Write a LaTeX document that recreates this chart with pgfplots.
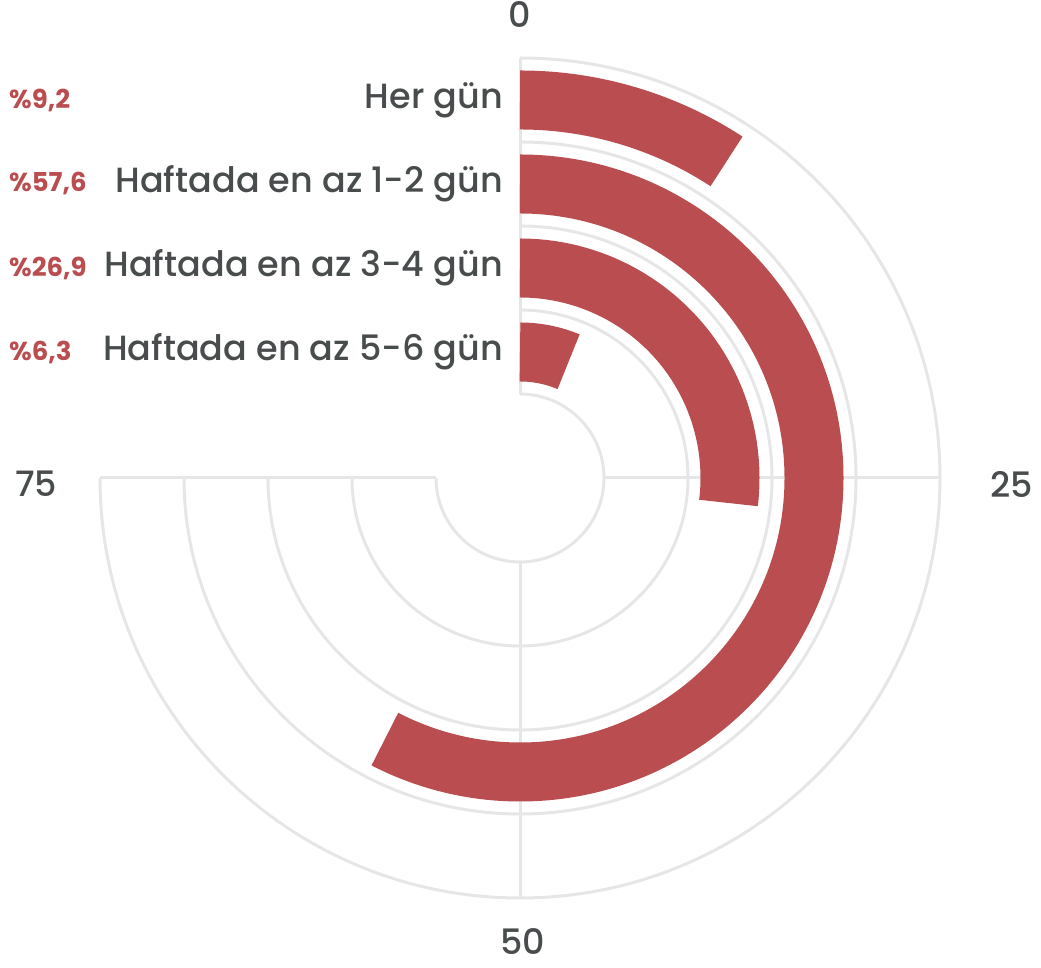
\documentclass[border=0pt]{standalone}
\usepackage{fontspec}
\setmainfont{Poppins}[UprightFont=* Medium, BoldFont=* Bold]
\usepackage{pgfplots}
\usepackage{pgfplotstable}
\pgfplotsset{compat=1.18}
\definecolor{barred}{RGB}{185,77,80}
\definecolor{gridgray}{RGB}{230,230,230}
\definecolor{textgray}{RGB}{72,76,77}

% value = share in percent, r = radius of the bar's centre line
\pgfplotstableread{
label value r
{Her gün} 9.2 378
{Haftada en az 1-2 gün} 57.6 294
{Haftada en az 3-4 gün} 26.9 210
{Haftada en az 5-6 gün} 6.3 126
}\freqtable

% one radial bar: arc from the top (0) clockwise, 100 = full turn
\pgfdeclareplotmark{radialbar}{%
  \pgfmathsetmacro\endang{90-3.6*\val}%
  \pgfsetlinewidth{59pt}%
  \pgfsetbuttcap
  \pgfsetstrokecolor{barred}%
  \pgfpathmoveto{\pgfpointorigin}%
  \pgfpatharc{90}{\endang}{\rad pt}%
  \pgfusepath{stroke}%
}

\begin{document}
\begin{tikzpicture}
\begin{axis}[
  x=1pt, y=1pt,
  xmin=-520, xmax=521,
  ymin=-490, ymax=478,
  scale only axis,
  hide axis,
  clip=false,
]
\path (axis cs:-520,-490) rectangle (axis cs:521,478);

% grid
\pgfplotsinvokeforeach{84,168,252,336,420}{
  \draw[gridgray, line width=3pt] (axis cs:0,#1) arc[start angle=90, end angle=-180, radius=#1pt];
}
\draw[gridgray, line width=3pt] (axis cs:0,84) -- (axis cs:0,420);
\draw[gridgray, line width=3pt] (axis cs:84,0) -- (axis cs:420,0);
\draw[gridgray, line width=3pt] (axis cs:0,-84) -- (axis cs:0,-420);
\draw[gridgray, line width=3pt] (axis cs:-84,0) -- (axis cs:-420,0);

% angular tick labels
\tikzset{ticklab/.style={text=textgray, inner sep=0pt, font=\fontsize{35}{40}\selectfont}}
\node[ticklab] at (axis cs:0,463) {0};
\node[ticklab] at (axis cs:492,-6) {25};
\node[ticklab] at (axis cs:3,-464) {50};
\node[ticklab] at (axis cs:-484,-6) {75};

% bars
\addplot[only marks, mark=radialbar,
  visualization depends on={\thisrow{value}\as\val},
  visualization depends on={\thisrow{r}\as\rad},
] table[x expr=0, y=r] {\freqtable};

% category labels
\addplot[only marks, mark=none,
  point meta=explicit symbolic,
  nodes near coords,
  every node near coord/.append style={anchor=east, inner sep=0pt,
    text=textgray, font=\fontsize{35}{40}\selectfont},
] table[x expr=-17, y=r, meta=label] {\freqtable};

% percentage labels
\addplot[only marks, mark=none,
  point meta=explicit,
  nodes near coords={\%\pgfmathprintnumber[fixed,fixed zerofill,precision=1,use comma,assume math mode=true]{\pgfplotspointmeta}},
  every node near coord/.append style={anchor=west, inner sep=0pt,
    text=barred, font=\bfseries\fontsize{26}{30}\selectfont},
] table[x expr=-511, y=r, meta=value] {\freqtable};
\end{axis}
\end{tikzpicture}
\end{document}
